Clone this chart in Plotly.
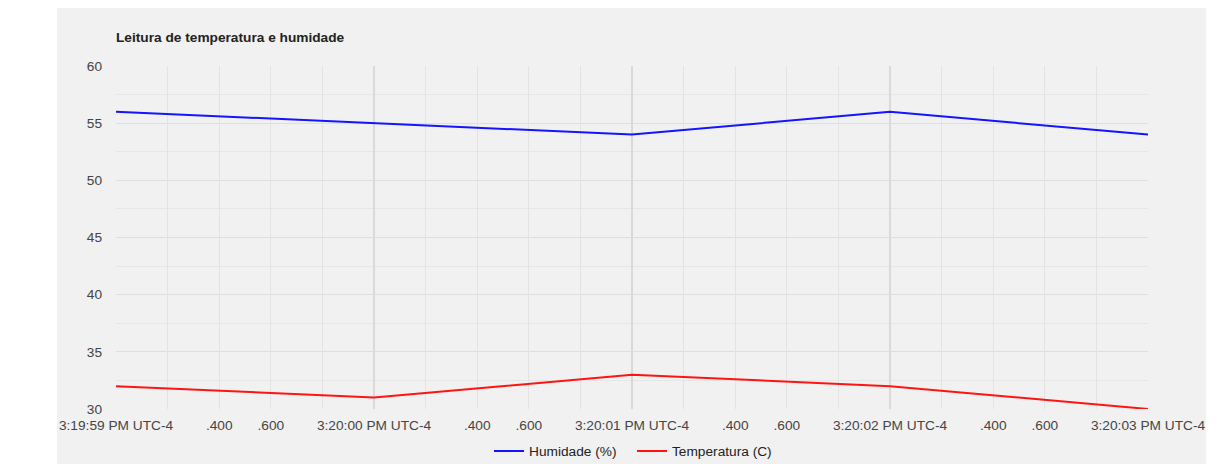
import plotly.graph_objects as go

times = ["2023-06-15 15:19:59", "2023-06-15 15:20:00", "2023-06-15 15:20:01",
         "2023-06-15 15:20:02", "2023-06-15 15:20:03"]
humidade = [56, 55, 54, 56, 54]
temperatura = [32, 31, 33, 32, 30]

second_ticks = times
second_labels = ["3:19:59 PM UTC-4", "3:20:00 PM UTC-4", "3:20:01 PM UTC-4",
                 "3:20:02 PM UTC-4", "3:20:03 PM UTC-4"]
frac_suffix = [".200", ".400", ".600", ".800"]
frac_labels = ["", ".400", ".600", ""]

frac_ticks, frac_text = [], []
for t in times[:-1]:
    for s, lab in zip(frac_suffix, frac_labels):
        frac_ticks.append(t + s)
        frac_text.append(lab)

y_ticks = [30, 35, 40, 45, 50, 55, 60]

FONT = "Liberation Sans, Arial, sans-serif"
FS = 13.7
tickfont = dict(family=FONT, size=FS, color="#444444")

W, H = 1207, 464 - 8
L, T, R, B = 108, 58, 67, 55
PW = W - L - R
PH = H - T - B

fig = go.Figure()
fig.add_trace(go.Scatter(x=times, y=humidade, mode="lines", name="Humidade (%)",
                         line=dict(color="#1414ff", width=2), xaxis="x", yaxis="y"))
fig.add_trace(go.Scatter(x=times, y=temperatura, mode="lines", name="Temperatura (C)",
                         line=dict(color="#ff1414", width=2), xaxis="x2", yaxis="y"))

xr = [times[0], times[-1]]
fig.update_layout(
    width=W, height=H,
    margin=dict(l=L, r=R, t=T, b=B, autoexpand=False),
    paper_bgcolor="white",
    plot_bgcolor="rgba(0,0,0,0)",
    font=dict(family=FONT, size=FS, color="#222222"),
    title=dict(text="<b>Leitura de temperatura e humidade</b>",
               x=L / W, xanchor="left", y=1 - 29 / H, yanchor="middle",
               font=dict(family=FONT, size=13.7, color="#222222")),
    xaxis=dict(type="date", range=xr, tickmode="array", tickvals=second_ticks,
               ticktext=second_labels, showgrid=True, gridcolor="#d9d9d9", gridwidth=1.6,
               zeroline=False, showline=False, tickfont=tickfont, ticks="",
               ticklabelstandoff=6),
    xaxis2=dict(type="date", range=xr, overlaying="x", anchor="y", side="bottom",
                tickmode="array", tickvals=frac_ticks, ticktext=frac_text,
                showgrid=True, gridcolor="#e3e3e3", gridwidth=1, zeroline=False,
                showline=False, tickfont=tickfont, ticks="", ticklabelstandoff=6),
    yaxis=dict(range=[30, 60], tickmode="array", tickvals=y_ticks,
               showgrid=True, gridcolor="#dedede", gridwidth=1, zeroline=False,
               showline=False, tickfont=tickfont, ticks="", ticklabelstandoff=13,
               minor=dict(dtick=2.5, showgrid=True, gridcolor="#e6e6e6", gridwidth=1)),
    legend=dict(orientation="h", x=0.5, xanchor="center", y=-42 / PH,
                yanchor="middle", font=dict(family=FONT, size=FS, color="#222222"),
                bgcolor="rgba(0,0,0,0)", itemwidth=30, entrywidth=98,
                entrywidthmode="pixels"),
    showlegend=True,
    shapes=[dict(type="rect", xref="paper", yref="paper",
                 x0=-59 / PW, x1=1090 / PW,
                 y0=-62 / PH, y1=(PH + T) / PH,
                 fillcolor="#f1f1f1", line=dict(width=0), layer="below")],
)

fig.write_html("out.html")
